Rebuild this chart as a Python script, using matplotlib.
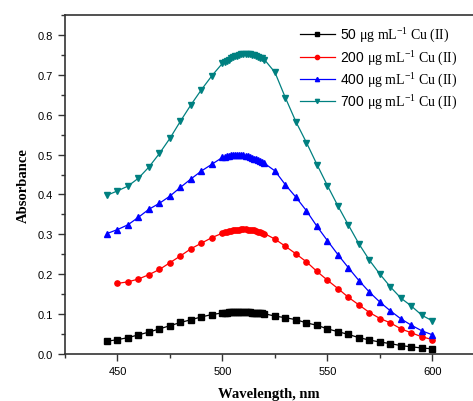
import matplotlib
matplotlib.use("Agg")
import matplotlib.pyplot as plt
from matplotlib.ticker import MultipleLocator
import numpy as np

plt.rcParams['mathtext.fontset'] = 'custom'
plt.rcParams['mathtext.rm'] = 'Liberation Serif'
plt.rcParams['mathtext.it'] = 'Liberation Serif:italic'
plt.rcParams['font.family'] = ['Liberation Sans', 'DejaVu Sans']

dense = list(range(500, 521))
wl_black = [445, 450, 455, 460, 465, 470, 475, 480, 485, 490, 495] + dense + \
    [525, 530, 535, 540, 545, 550, 555, 560, 565, 570, 575, 580, 585, 590, 595, 600]
wl_red = wl_black[1:]

abs_50 = [0.032, 0.036, 0.041, 0.048, 0.055, 0.063, 0.071, 0.079, 0.086, 0.093, 0.099,
          0.103, 0.104, 0.104, 0.105, 0.105, 0.106, 0.106, 0.106, 0.106, 0.106, 0.106,
          0.105, 0.105, 0.105, 0.104, 0.104, 0.103, 0.103, 0.102, 0.102, 0.101,
          0.095, 0.091, 0.086, 0.078, 0.072, 0.063, 0.056, 0.049, 0.041, 0.035,
          0.030, 0.026, 0.021, 0.018, 0.015, 0.013]
abs_200 = [0.177, 0.181, 0.188, 0.199, 0.212, 0.229, 0.246, 0.264, 0.278, 0.292,
           0.303, 0.305, 0.306, 0.308, 0.309, 0.310, 0.311, 0.312, 0.312, 0.313, 0.313,
           0.313, 0.312, 0.312, 0.311, 0.310, 0.309, 0.307, 0.306, 0.304, 0.302,
           0.288, 0.270, 0.251, 0.231, 0.207, 0.185, 0.164, 0.142, 0.123, 0.104,
           0.089, 0.078, 0.063, 0.053, 0.043, 0.036]
abs_400 = [0.302, 0.312, 0.324, 0.343, 0.363, 0.378, 0.396, 0.418, 0.439, 0.459, 0.476,
           0.493, 0.494, 0.496, 0.497, 0.498, 0.498, 0.499, 0.499, 0.499, 0.499, 0.498,
           0.497, 0.496, 0.494, 0.492, 0.490, 0.488, 0.486, 0.483, 0.481, 0.478,
           0.459, 0.424, 0.393, 0.359, 0.320, 0.284, 0.249, 0.216, 0.184, 0.155,
           0.130, 0.108, 0.088, 0.072, 0.058, 0.048]
abs_700 = [0.398, 0.409, 0.421, 0.441, 0.469, 0.503, 0.541, 0.584, 0.625, 0.663, 0.698,
           0.729, 0.732, 0.735, 0.738, 0.741, 0.744, 0.746, 0.748, 0.750, 0.751, 0.752,
           0.752, 0.752, 0.751, 0.750, 0.749, 0.747, 0.745, 0.743, 0.741, 0.738,
           0.706, 0.642, 0.582, 0.530, 0.475, 0.422, 0.371, 0.323, 0.276, 0.235,
           0.200, 0.168, 0.140, 0.120, 0.097, 0.083]

labels = [r"50 $\mathrm{\mu g\ mL^{-1}\ Cu\ (II)}$",
          r"200 $\mathrm{\mu g\ mL^{-1}\ Cu\ (II)}$",
          r"400 $\mathrm{\mu g\ mL^{-1}\ Cu\ (II)}$",
          r"700 $\mathrm{\mu g\ mL^{-1}\ Cu\ (II)}$"]

fig = plt.figure(figsize=(4.73, 4.02), dpi=100)
ax = fig.add_axes([65/473, 1-355/402, 1-65/473, (355-16)/402])

series = [(wl_black, abs_50, 'black', 's'),
          (wl_red, abs_200, '#ff0000', 'o'),
          (wl_black, abs_400, '#0000ff', '^'),
          (wl_black, abs_700, '#008080', 'v')]
for (x, y, c, m), lab in zip(series, labels):
    ax.plot(x, y, color=c, marker=m, markersize=3.8, lw=0.9, label=lab)

ax.set_xlim(425, 619.3)
ax.set_ylim(0, 0.85)
ax.xaxis.set_major_locator(MultipleLocator(50))
ax.xaxis.set_minor_locator(MultipleLocator(25))
ax.yaxis.set_major_locator(MultipleLocator(0.1))
ax.yaxis.set_minor_locator(MultipleLocator(0.05))
ax.yaxis.set_major_formatter(matplotlib.ticker.FormatStrFormatter('%.1f'))
ax.spines['right'].set_visible(False)
for s in ['left', 'bottom', 'top']:
    ax.spines[s].set_linewidth(1.2)
    ax.spines[s].set_color('#333333')
ax.tick_params(which='both', direction='out', top=False, right=False, labelsize=8, color='#333333')
ax.tick_params(which='major', length=5, width=1)
ax.tick_params(which='minor', length=3, width=1)

ax.set_xlabel("Wavelength, nm", family='Liberation Serif', fontweight='bold', fontsize=10.5, labelpad=8)
ax.set_ylabel("Absorbance", family='Liberation Serif', fontweight='bold', fontsize=10.5, labelpad=6)

leg = ax.legend(loc='upper left', bbox_to_anchor=(300/473, 1-27/402), bbox_transform=fig.transFigure,
                frameon=False, fontsize=10, handlelength=2.5, handletextpad=0.35,
                borderpad=0, borderaxespad=0, labelspacing=0.3, markerscale=0.8)

fig.savefig("out.png", dpi=100)
